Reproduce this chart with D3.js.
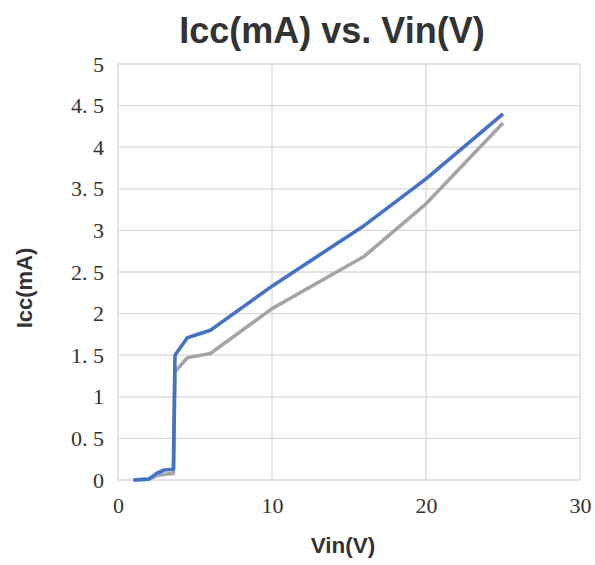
<!DOCTYPE html>
<html>
<head>
<meta charset="utf-8">
<script src="https://cdn.jsdelivr.net/npm/d3@7"></script>
<style>
  body { margin: 0; background: #fff; }
  .tick text { font-family: "Liberation Serif", "DejaVu Serif", serif; fill: #333; }
</style>
</head>
<body>
<svg width="595" height="565"></svg>
<script>
// Vin (V) readings shared by both curves
const vin = [1, 2, 2.5, 3, 3.6, 3.7, 4.5, 6, 10, 16, 20, 25];
const iccBlue = [0, 0.01, 0.08, 0.12, 0.13, 1.5, 1.71, 1.8, 2.33, 3.06, 3.62, 4.4];
const iccGray = [0, 0.01, 0.05, 0.07, 0.08, 1.3, 1.47, 1.52, 2.06, 2.69, 3.32, 4.29];
const xTicks = [0, 10, 20, 30];
const yTicks = [0, 0.5, 1, 1.5, 2, 2.5, 3, 3.5, 4, 4.5, 5];

var svg = d3.select('svg');
var plotLeft = 118, plotRight = 580, plotTop = 64, plotBottom = 480;

var x = d3.scaleLinear().domain([0, 30]).range([plotLeft, plotRight]);
var y = d3.scaleLinear().domain([0, 5]).range([plotBottom, plotTop]);

// gridlines
svg.append('g')
	.selectAll('line')
	.data(yTicks)
	.enter()
	.append('line')
	.attr('x1', plotLeft).attr('x2', plotRight)
	.attr('y1', d => y(d)).attr('y2', d => y(d))
	.attr('stroke', '#d9d9d9').attr('stroke-width', 1.3);

svg.append('g')
	.selectAll('line')
	.data(xTicks)
	.enter()
	.append('line')
	.attr('x1', d => x(d)).attr('x2', d => x(d))
	.attr('y1', plotTop).attr('y2', plotBottom)
	.attr('stroke', '#d9d9d9').attr('stroke-width', 1.3);

// axes (labels only)
var xAxis = svg.append('g')
	.attr('transform', 'translate(0,' + plotBottom + ')')
	.call(d3.axisBottom(x).tickValues(xTicks).tickSize(0).tickPadding(17));
xAxis.select('.domain').remove();
xAxis.selectAll('text').attr('font-size', 22);

var yAxis = svg.append('g')
	.attr('transform', 'translate(' + (plotLeft - 14) + ',0)')
	.call(d3.axisLeft(y).tickValues(yTicks).tickSize(0).tickPadding(0)
		.tickFormat(d => String(d).replace('.', '. ')));
yAxis.select('.domain').remove();
yAxis.selectAll('text').attr('font-size', 22).style('white-space', 'pre');

// lines
var line = d3.line()
	.x((d, i) => x(vin[i]))
	.y(d => y(d));

svg.append('path')
	.datum(iccGray)
	.attr('d', line)
	.attr('fill', 'none')
	.attr('stroke', '#a5a5a5')
	.attr('stroke-width', 3.6)
	.attr('stroke-linejoin', 'round');

svg.append('path')
	.datum(iccBlue)
	.attr('d', line)
	.attr('fill', 'none')
	.attr('stroke', '#4472c4')
	.attr('stroke-width', 3.6)
	.attr('stroke-linejoin', 'round');

// titles
svg.append('text')
	.attr('x', 332).attr('y', 43)
	.attr('text-anchor', 'middle')
	.attr('font-family', '"Liberation Sans", Arial, sans-serif')
	.attr('font-weight', 'bold')
	.attr('font-size', 36)
	.attr('fill', '#333')
	.text('Icc(mA) vs. Vin(V)');

svg.append('text')
	.attr('x', 343).attr('y', 553)
	.attr('text-anchor', 'middle')
	.attr('font-family', '"Liberation Sans", Arial, sans-serif')
	.attr('font-weight', 'bold')
	.attr('font-size', 22.5)
	.attr('fill', '#333')
	.text('Vin(V)');

svg.append('text')
	.attr('transform', 'translate(32,288) rotate(-90)')
	.attr('text-anchor', 'middle')
	.attr('font-family', '"Liberation Sans", Arial, sans-serif')
	.attr('font-weight', 'bold')
	.attr('font-size', 22)
	.attr('fill', '#333')
	.text('Icc(mA)');
</script>
</body>
</html>
